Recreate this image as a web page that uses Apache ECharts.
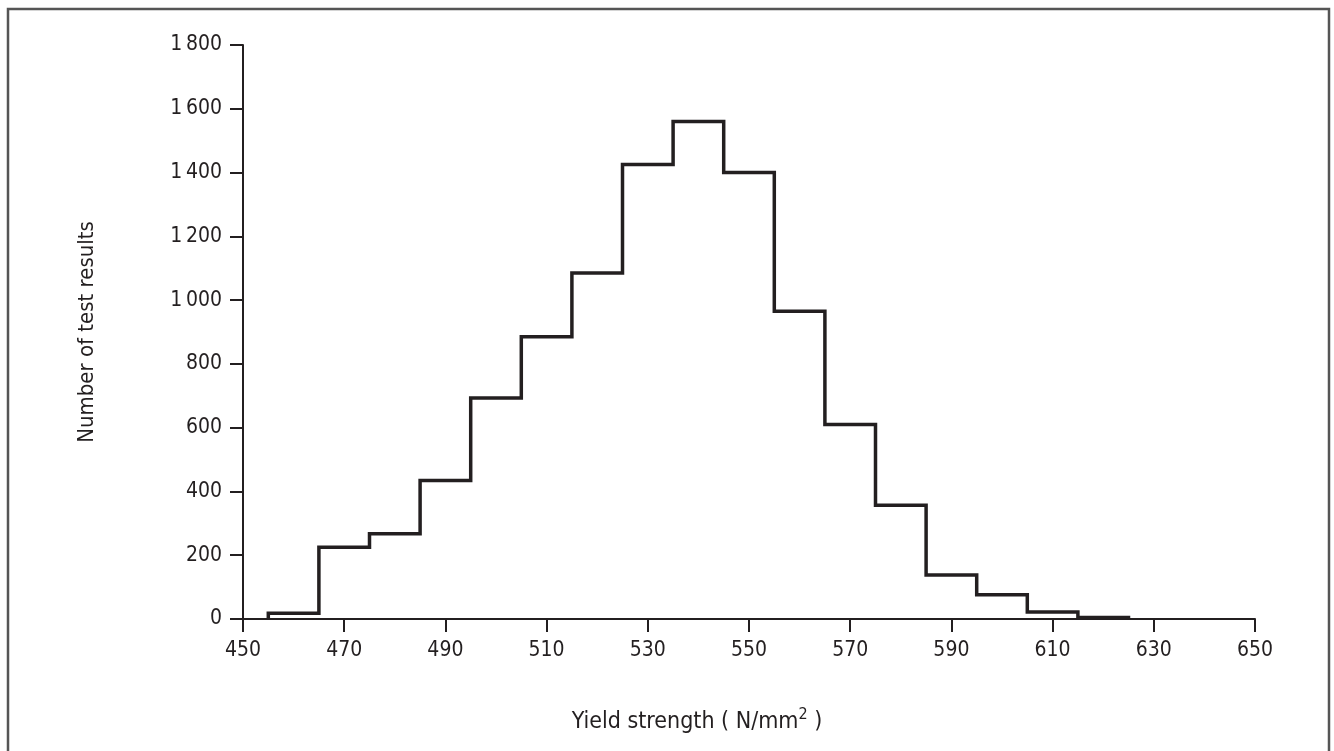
<!DOCTYPE html>
<html>
<head>
<meta charset="utf-8">
<title>Yield strength histogram</title>
<script src="https://cdn.jsdelivr.net/npm/echarts@6/dist/echarts.min.js"></script>
<style>
  html, body { margin: 0; padding: 0; background: #fff; }
  #main { width: 1334px; height: 751px; }
</style>
</head>
<body>
<div id="main"></div>
<script>
// bin edges (N/mm2) and counts per 10-wide bin
const binStart = [455, 465, 475, 485, 495, 505, 515, 525, 535, 545, 555, 565, 575, 585, 595, 605, 615];
const binWidth = 10;
const counts = [18, 225, 267, 434, 693, 885, 1085, 1425, 1560, 1400, 965, 610, 357, 138, 76, 22, 5];
const xTicks = [450, 470, 490, 510, 530, 550, 570, 590, 610, 630, 650];
const yTicks = [0, 200, 400, 600, 800, 1000, 1200, 1400, 1600, 1800];

// axis runs 0..200 internally so min is a multiple of the interval
const X0 = xTicks[0];

function formatNumber(v) {
  return v.toString().replace(/\B(?=(\d{3})+(?!\d))/g, '\u2009');
}

// outline of the histogram as a step path
let steps = [];
steps.push([binStart[0] - X0, 0]);
for (let i = 0; i < counts.length; i++) {
  steps.push([binStart[i] - X0, counts[i]]);
  steps.push([binStart[i] + binWidth - X0, counts[i]]);
}
steps.push([binStart[binStart.length - 1] + binWidth - X0, 0]);

const ink = '#231f20';
const font = '"DejaVu Sans Condensed", "Liberation Sans Narrow", sans-serif';

let chart = echarts.init(document.getElementById('main'), null, { renderer: 'canvas' });
chart.setOption({
  animation: false,
  backgroundColor: '#fff',
  graphic: [{
    type: 'rect',
    shape: { x: 8, y: 9, width: 1321, height: 770 },
    style: { fill: 'none', stroke: '#555', lineWidth: 2.5 }
  }],
  grid: { left: 243, right: 79, top: 45, bottom: 132 },
  xAxis: {
    type: 'value',
    min: 0,
    max: xTicks[xTicks.length - 1] - X0,
    interval: xTicks[1] - xTicks[0],
    name: 'Yield strength ( N/mm{sup|2} )',
    nameLocation: 'middle',
    nameGap: 88,
    nameTextStyle: {
      color: ink, fontFamily: font, fontSize: 23,
      padding: [0, 104, 0, 0],
      rich: {
        sup: { fontSize: 16, color: ink, fontFamily: font, verticalAlign: 'top', padding: [0, 0, 14, 0] }
      }
    },
    axisLine: { onZero: false, lineStyle: { color: ink, width: 2 } },
    axisTick: { show: true, inside: false, length: 13, lineStyle: { color: ink, width: 2 } },
    axisLabel: {
      color: ink, fontFamily: font, fontSize: 21, margin: 21,
      formatter: v => String(v + X0)
    },
    splitLine: { show: false }
  },
  yAxis: {
    type: 'value',
    min: yTicks[0],
    max: yTicks[yTicks.length - 1],
    interval: yTicks[1] - yTicks[0],
    name: 'Number of test results',
    nameLocation: 'middle',
    nameGap: 145,
    nameTextStyle: { color: ink, fontFamily: font, fontSize: 22 },
    axisLine: { show: true, lineStyle: { color: ink, width: 2 } },
    axisTick: { show: true, inside: false, length: 13, lineStyle: { color: ink, width: 2 } },
    axisLabel: {
      color: ink, fontFamily: font, fontSize: 21, margin: 21,
      formatter: v => formatNumber(v)
    },
    splitLine: { show: false }
  },
  series: [{
    name: 'Number of test results',
    type: 'line',
    data: steps,
    symbol: 'none',
    lineStyle: { color: ink, width: 3.5, join: 'miter' },
    z: 3
  }]
});
window.addEventListener('resize', () => chart.resize());
</script>
</body>
</html>
